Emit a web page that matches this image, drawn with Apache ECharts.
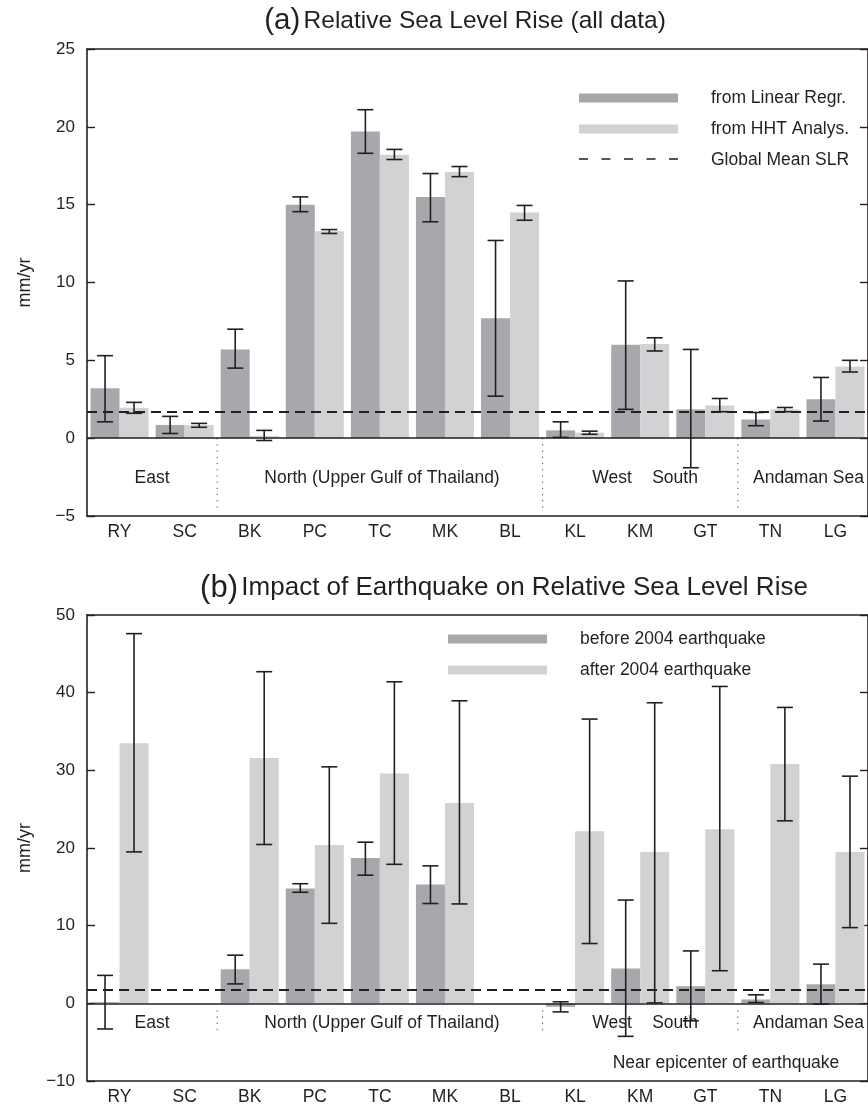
<!DOCTYPE html>
<html>
<head>
<meta charset="utf-8">
<script src="https://cdn.jsdelivr.net/npm/echarts@6/dist/echarts.min.js"></script>
<style>html,body{margin:0;padding:0;background:#fff;}#c{width:868px;height:1108px;}</style>
</head>
<body>
<div id="c"></div>
<script>
// ---------- data ----------
const categories = ['RY','SC','BK','PC','TC','MK','BL','KL','KM','GT','TN','LG'];
// (a) all data
const linRegr     = [3.2, 0.85, 5.7, 15.0, 19.7, 15.5, 7.7, 0.5, 6.0, 1.85, 1.2, 2.5];
const linRegrLow  = [1.05, 0.3, 4.5, 14.55, 18.3, 13.9, 2.7, 0.05, 1.85, -1.9, 0.8, 1.1];
const linRegrHigh = [5.3, 1.4, 7.0, 15.5, 21.1, 17.0, 12.7, 1.05, 10.1, 5.7, 1.65, 3.9];
const hht         = [1.95, 0.85, 0.15, 13.3, 18.2, 17.1, 14.5, 0.35, 6.05, 2.1, 1.85, 4.6];
const hhtLow      = [1.6, 0.7, -0.15, 13.15, 17.9, 16.8, 14.0, 0.25, 5.6, 1.7, 1.7, 4.25];
const hhtHigh     = [2.3, 0.95, 0.5, 13.4, 18.55, 17.45, 14.95, 0.45, 6.45, 2.55, 1.97, 5.0];
const globalMeanSLR = 1.7;
// (b) earthquake
const before     = [0.15, 0, 4.4, 14.8, 18.7, 15.3, 0, -0.45, 4.5, 2.2, 0.5, 2.45];
const beforeLow  = [-3.3, null, 2.5, 14.3, 16.5, 12.85, null, -1.1, -4.25, -2.25, 0.1, -0.1];
const beforeHigh = [3.6, null, 6.2, 15.4, 20.75, 17.7, null, 0.2, 13.3, 6.75, 1.1, 5.05];
const after      = [33.5, 0, 31.6, 20.4, 29.6, 25.8, 0, 22.15, 19.5, 22.4, 30.8, 19.5];
const afterLow   = [19.5, null, 20.45, 10.3, 17.9, 12.8, null, 7.7, 0.05, 4.2, 23.5, 9.75];
const afterHigh  = [47.6, null, 42.7, 30.45, 41.4, 38.95, null, 36.6, 38.7, 40.8, 38.1, 29.25];
// ticks
const yTicksA = {min: -5, max: 25, interval: 5};
const yTicksB = {min: -10, max: 50, interval: 10};
const separatorsAfter = [1, 6, 9];

// ---------- styles ----------
const FONT = 'Liberation Sans, Arial, Helvetica, sans-serif';
const INK = '#231f20';
const DARK = '#a7a8ab';
const LIGHT = '#d1d2d4';
const BARW = 29;
const DASH = [10, 6];

function errData(lo, hi) {
  const out = [];
  for (let i = 0; i < categories.length; i++) {
    if (lo[i] != null && hi[i] != null) out.push([i, lo[i], hi[i]]);
  }
  return out;
}
function errRender(sign) {
  return function (params, api) {
    const i = api.value(0);
    const pLo = api.coord([i, api.value(1)]);
    const pHi = api.coord([i, api.value(2)]);
    const x = pLo[0] + sign * BARW / 2;
    const cap = 8;
    const st = {stroke: INK, lineWidth: 1.6};
    return {type: 'group', children: [
      {type: 'line', shape: {x1: x, y1: pHi[1], x2: x, y2: pLo[1]}, style: st},
      {type: 'line', shape: {x1: x - cap, y1: pHi[1], x2: x + cap, y2: pHi[1]}, style: st},
      {type: 'line', shape: {x1: x - cap, y1: pLo[1], x2: x + cap, y2: pLo[1]}, style: st}
    ]};
  };
}
function sepRender(y1v, y2v) {
  return function (params, api) {
    const i = api.value(0);
    const bw = api.size([1, 0])[0];
    const p1 = api.coord([i, y1v]);
    const p2 = api.coord([i, y2v]);
    const x = p1[0] + bw / 2;
    return {type: 'line', shape: {x1: x, y1: p1[1], x2: x, y2: p2[1]},
      style: {stroke: '#444', lineWidth: 1, lineDash: [1.2, 5]}};
  };
}

function xAxes(gridIndex) {
  return [
    {type: 'category', gridIndex, data: categories, position: 'bottom',
     axisLine: {onZero: false, lineStyle: {color: INK, width: 1.6}},
     axisTick: {inside: true, alignWithLabel: true, length: 7, lineStyle: {color: INK, width: 1.4}},
     axisLabel: {color: INK, fontSize: 17.5, fontFamily: FONT, margin: 7},
     splitLine: {show: false}},
    {type: 'category', gridIndex, data: categories, position: 'top',
     axisLine: {onZero: false, lineStyle: {color: INK, width: 1.6}},
     axisTick: {inside: true, alignWithLabel: true, length: 7, lineStyle: {color: INK, width: 1.4}},
     axisLabel: {show: false}, splitLine: {show: false}}
  ];
}
function yAxes(gridIndex, t) {
  return [
    {type: 'value', gridIndex, min: t.min, max: t.max, interval: t.interval, position: 'left',
     name: 'mm/yr', nameLocation: 'middle', nameGap: 53, nameRotate: 90,
     nameTextStyle: {color: INK, fontSize: 18, fontFamily: FONT},
     axisLine: {show: true, onZero: false, lineStyle: {color: INK, width: 1.6}},
     axisTick: {show: true, inside: true, length: 8, lineStyle: {color: INK, width: 1.4}},
     axisLabel: {color: INK, fontSize: 17, fontFamily: FONT, margin: 12,
       formatter: v => (v < 0 ? '\u2212' + Math.abs(v) : String(v))},
     splitLine: {show: false}},
    {type: 'value', gridIndex, min: t.min, max: t.max, interval: t.interval, position: 'right',
     axisLine: {show: true, onZero: false, lineStyle: {color: INK, width: 1.6}},
     axisTick: {show: true, inside: true, length: 8, lineStyle: {color: INK, width: 1.4}},
     axisLabel: {show: false}, splitLine: {show: false}}
  ];
}
function hline(name, xi, yi, val, dashed, z) {
  return {type: 'line', name, xAxisIndex: xi, yAxisIndex: yi, data: [], symbol: 'none', showSymbol: false, z,
    lineStyle: {color: INK, width: 1.8, type: dashed ? DASH : 'solid'},
    itemStyle: {color: INK},
    markLine: {silent: true, symbol: ['none', 'none'], label: {show: false}, animation: false,
      lineStyle: {color: INK, width: dashed ? 1.8 : 1.5, type: dashed ? DASH : 'solid'},
      data: [{yAxis: val}]}};
}
function bar(name, xi, yi, data, color) {
  return {type: 'bar', name, xAxisIndex: xi, yAxisIndex: yi, data, barWidth: BARW, barGap: '0%',
    itemStyle: {color}, z: 2, animation: false};
}
function errSeries(xi, yi, lo, hi, sign) {
  return {type: 'custom', xAxisIndex: xi, yAxisIndex: yi, data: errData(lo, hi),
    encode: {x: 0, y: [1, 2]}, renderItem: errRender(sign), z: 3, silent: true, animation: false};
}
function sepSeries(xi, yi, y1, y2) {
  return {type: 'custom', xAxisIndex: xi, yAxisIndex: yi, data: separatorsAfter.map(i => [i]),
    encode: {x: 0}, renderItem: sepRender(y1, y2), z: 1, silent: true, animation: false};
}
function txt(text, x, y, align, size) {
  return {type: 'text', x, y, silent: true,
    style: {text, fill: INK, font: (size || 17.5) + 'px ' + FONT, align: align || 'center', verticalAlign: 'middle'}};
}
function titleText(lbl, text, x, y, size) {
  return {type: 'text', x, y, silent: true,
    style: {text: '{l|' + lbl + '} {t|' + text + '}', align: 'center', verticalAlign: 'middle', fill: INK,
      rich: {l: {fontSize: size + 5, fontFamily: FONT, fill: INK}, t: {fontSize: size, fontFamily: FONT, fill: INK}}}};
}

const legendText = {color: INK, fontSize: 17.5, fontFamily: FONT, padding: [0, 0, 0, 28], lineHeight: 20};

const option = {
  animation: false,
  backgroundColor: '#fff',
  grid: [
    {left: 87, top: 49, height: 467, right: -7},
    {left: 87, top: 615, height: 466, right: -7}
  ],
  xAxis: [...xAxes(0), ...xAxes(1)],
  yAxis: [...yAxes(0, yTicksA), ...yAxes(1, yTicksB)],
  legend: [
    {data: [{name: 'from Linear Regr.', icon: 'rect'}, {name: 'from HHT Analys.', icon: 'rect'}, {name: 'Global Mean SLR', icon: 'none'}],
     orient: 'vertical', left: 579, top: 88, padding: 0, itemWidth: 99, itemHeight: 9, itemGap: 11,
     textStyle: legendText, selectedMode: false},
    {data: [{name: 'before 2004 earthquake', icon: 'rect'}, {name: 'after 2004 earthquake', icon: 'rect'}],
     orient: 'vertical', left: 448, top: 629, padding: 0, itemWidth: 99, itemHeight: 9, itemGap: 11,
     textStyle: legendText, selectedMode: false}
  ],
  series: [
    // (a)
    hline('zeroA', 0, 0, 0, false, 1),
    sepSeries(0, 0, 0, -4.6),
    bar('from Linear Regr.', 0, 0, linRegr, DARK),
    bar('from HHT Analys.', 0, 0, hht, LIGHT),
    errSeries(0, 0, linRegrLow, linRegrHigh, -1),
    errSeries(0, 0, hhtLow, hhtHigh, 1),
    hline('Global Mean SLR', 0, 0, globalMeanSLR, true, 4),
    // (b)
    hline('zeroB', 2, 2, 0, false, 1),
    sepSeries(2, 2, -0.9, -4.1),
    bar('before 2004 earthquake', 2, 2, before, DARK),
    bar('after 2004 earthquake', 2, 2, after, LIGHT),
    errSeries(2, 2, beforeLow, beforeHigh, -1),
    errSeries(2, 2, afterLow, afterHigh, 1),
    hline('Global Mean SLR (b)', 2, 2, globalMeanSLR, true, 4)
  ],
  graphic: [
    // dashed sample for the "Global Mean SLR" legend entry
    {type: 'line', silent: true, shape: {x1: 579, y1: 159, x2: 678, y2: 159},
     style: {stroke: INK, lineWidth: 1.6, lineDash: [9, 13.5]}},
    titleText('(a)', 'Relative Sea Level Rise (all data)', 465, 21, 24.5),
    titleText('(b)', 'Impact of Earthquake on Relative Sea Level Rise', 504, 588, 26),
    txt('East', 152, 478), txt('North (Upper Gulf of Thailand)', 382, 478),
    txt('West', 612, 478), txt('South', 675, 478), txt('Andaman Sea', 753, 478, 'left'),
    txt('East', 152, 1023), txt('North (Upper Gulf of Thailand)', 382, 1023),
    txt('West', 612, 1023), txt('South', 675, 1023), txt('Andaman Sea', 753, 1023, 'left'),
    txt('Near epicenter of earthquake', 726, 1063)
  ]
};

const chart = echarts.init(document.getElementById('c'), null, {renderer: 'canvas'});
chart.setOption(option);
</script>
</body>
</html>
